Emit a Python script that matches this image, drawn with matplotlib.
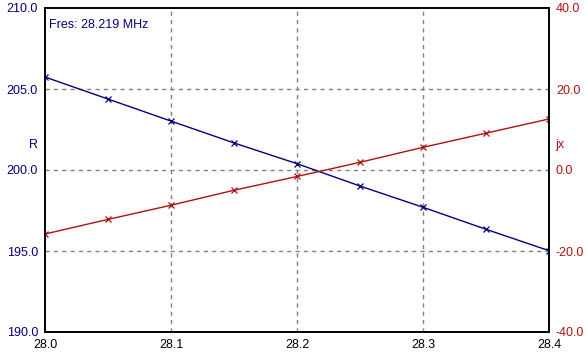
import matplotlib.pyplot as plt
import numpy as np

freq = [28.0, 28.05, 28.1, 28.15, 28.2, 28.25, 28.3, 28.35, 28.4]
r_vals = [205.74, 204.38, 203.02, 201.67, 200.39, 199.01, 197.7, 196.34, 195.02]
jx_vals = [-15.8, -12.2, -8.7, -5.0, -1.6, 1.9, 5.6, 9.1, 12.6]

x_ticks = [28.0, 28.1, 28.2, 28.3, 28.4]
r_ticks = [190.0, 195.0, 200.0, 205.0, 210.0]
jx_ticks = [-40.0, -20.0, 0.0, 20.0, 40.0]
fres = "Fres: 28.219 MHz"

azul = "#000080"
rojo = "#b01010"

plt.rcParams['font.family'] = ['Liberation Sans', 'DejaVu Sans']
plt.rcParams['font.size'] = 9

fig = plt.figure(figsize=(5.87, 3.59), dpi=100)
ax = fig.add_axes([45/587, 1-332/359, 504/587, 324/359])
ax2 = ax.twinx()

ax.plot(freq, r_vals, color=azul, lw=1, marker='x', ms=5, mew=0.9)
ax2.plot(freq, jx_vals, color=rojo, lw=1, marker='x', ms=5, mew=0.9)

ax.set_xlim(28.0, 28.4)
ax.set_ylim(190, 210)
ax2.set_ylim(-40, 40)
ax.set_xticks(x_ticks)
ax.set_xticklabels([f"{t:.1f}" for t in x_ticks])
ax.set_yticks(r_ticks)
ax.set_yticklabels([f"{t:.1f}" for t in r_ticks])
ax2.set_yticks(jx_ticks)
ax2.set_yticklabels([f"{t:.1f}" for t in jx_ticks])

ax.tick_params(axis='x', length=0, pad=5, colors='black')
ax.tick_params(axis='y', length=0, pad=5, colors=azul)
ax2.tick_params(axis='y', length=0, pad=5, colors=rojo)

for a in (ax, ax2):
    for s in a.spines.values():
        s.set_linewidth(1.2)
        s.set_color('black')

for xt in x_ticks[1:-1]:
    ax.axvline(xt, color='#808080', ls=(0, (3, 3)), lw=1, zorder=0)
for yt in r_ticks[1:-1]:
    ax.axhline(yt, color='#808080', ls=(0, (3, 3)), lw=1, zorder=0)

fig.text(33/587, 1-145/359, "R", color=azul, ha='center', va='center', fontsize=9)
fig.text(560/587, 1-145/359, "jx", color=rojo, ha='center', va='center', fontsize=9)
ax.text(0.008, 0.965, fres, transform=ax.transAxes, color=azul, ha='left', va='top', fontsize=9)

fig.savefig("out.png", dpi=100)
